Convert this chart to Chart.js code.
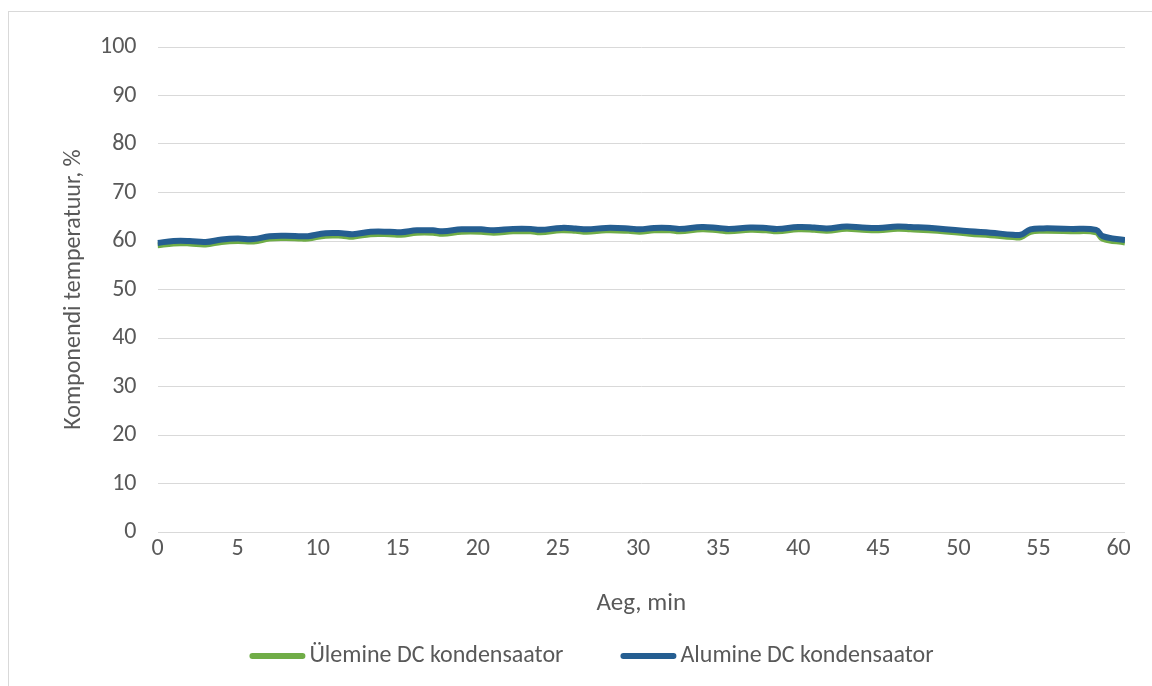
<!DOCTYPE html>
<html>
<head>
<meta charset="utf-8">
<script src="https://cdn.jsdelivr.net/npm/chart.js@4.4.1/dist/chart.umd.min.js"></script>
<style>
  html, body { margin: 0; padding: 0; background: #ffffff; }
  #wrap { position: relative; width: 1152px; height: 686px; }
</style>
</head>
<body>
<div id="wrap"><canvas id="c" width="1152" height="686"></canvas></div>
<script>
// Time stamps (minutes) and the two capacitor temperature series (%)
const minutes = [0, 1, 2, 3, 4, 5, 6, 7, 8, 9, 9.4, 10.5, 11.5, 12.2, 13.3, 14.5, 15.2, 16.2, 17.2, 17.8,
  19, 20.2, 21, 22.2, 23.3, 23.9, 25.2, 26.1, 26.8, 28, 29.4, 30.1, 31, 32, 32.6, 34, 35, 35.7, 37, 38,
  38.7, 40, 41, 41.8, 43, 44, 45, 46.2, 47, 48.7, 50.7, 52, 53.4, 53.9, 54.5, 55.3, 57, 58.6, 59, 60.4];

const upperCap = [59.1, 59.5, 59.5, 59.3, 59.8, 60.0, 59.9, 60.5, 60.6, 60.5, 60.5, 61.1, 61.1, 60.9, 61.4, 61.4, 61.3, 61.7, 61.7, 61.5,
  61.9, 61.9, 61.7, 62.0, 62.0, 61.8, 62.2, 62.1, 61.9, 62.2, 62.1, 61.9, 62.2, 62.2, 62.0, 62.4, 62.2, 62.0, 62.3, 62.2,
  62.0, 62.4, 62.3, 62.1, 62.5, 62.3, 62.2, 62.5, 62.4, 62.1, 61.5, 61.2, 60.8, 60.8, 61.9, 62.1, 62.0, 61.8, 60.5, 59.7];

const lowerCap = [59.6, 60.0, 60.0, 59.8, 60.3, 60.5, 60.4, 61.0, 61.1, 61.0, 61.0, 61.6, 61.6, 61.4, 61.9, 61.9, 61.8, 62.2, 62.2, 62.0,
  62.4, 62.4, 62.2, 62.5, 62.5, 62.3, 62.7, 62.6, 62.4, 62.7, 62.6, 62.4, 62.7, 62.7, 62.5, 62.9, 62.7, 62.5, 62.8, 62.7,
  62.5, 62.9, 62.8, 62.6, 63.0, 62.8, 62.7, 63.0, 62.9, 62.6, 62.0, 61.7, 61.3, 61.3, 62.4, 62.6, 62.5, 62.3, 61.0, 60.2];

const seriesNames = ['Ülemine DC kondensaator', 'Alumine DC kondensaator'];
const seriesColors = ['#70ad47', '#255e91'];
const yTicks = [0, 10, 20, 30, 40, 50, 60, 70, 80, 90, 100];
const xTicks = [0, 5, 10, 15, 20, 25, 30, 35, 40, 45, 50, 55, 60];

const FONT = 'Calibri, Carlito, Lato, sans-serif';
const TEXT = '#595959';
const GRID = '#d9d9d9';

const toPoints = vals => vals.map((v, i) => ({ x: minutes[i], y: v }));

// Outer chart frame (light grey rule on the left and top edges)
const framePlugin = {
  id: 'frame',
  beforeDraw(chart) {
    const ctx = chart.ctx;
    ctx.save();
    ctx.fillStyle = '#ffffff';
    ctx.fillRect(0, 0, chart.width, chart.height);
    ctx.strokeStyle = GRID;
    ctx.lineWidth = 1;
    ctx.strokeRect(8.5, 11.5, 1400, 900);
    ctx.restore();
  }
};

// Line-sample legend under the x axis title
const lineLegend = {
  id: 'lineLegend',
  afterDraw(chart, args, opts) {
    const ctx = chart.ctx;
    ctx.save();
    ctx.font = opts.size + 'px ' + FONT;
    ctx.textBaseline = 'middle';
    const items = chart.data.datasets.map(ds => ({
      label: ds.label, color: ds.borderColor, w: ctx.measureText(ds.label).width
    }));
    const itemW = it => opts.sample + opts.gap + it.w;
    const total = items.reduce((s, it) => s + itemW(it), 0) + opts.spacing * (items.length - 1);
    let x = opts.center - total / 2;
    const y = opts.y;
    items.forEach(it => {
      ctx.strokeStyle = it.color;
      ctx.lineWidth = 6;
      ctx.lineCap = 'round';
      ctx.beginPath();
      ctx.moveTo(x + 3, y);
      ctx.lineTo(x + opts.sample - 3, y);
      ctx.stroke();
      ctx.fillStyle = TEXT;
      ctx.fillText(it.label, x + opts.sample + opts.gap, y);
      x += itemW(it) + opts.spacing;
    });
    ctx.restore();
  }
};

new Chart(document.getElementById('c'), {
  type: 'line',
  data: {
    datasets: [
      {
        label: seriesNames[0],
        data: toPoints(upperCap),
        borderColor: seriesColors[0],
        backgroundColor: seriesColors[0],
        borderWidth: 6,
        pointRadius: 0,
        tension: 0.4,
        order: 1
      },
      {
        label: seriesNames[1],
        data: toPoints(lowerCap),
        borderColor: seriesColors[1],
        backgroundColor: seriesColors[1],
        borderWidth: 6,
        pointRadius: 0,
        tension: 0.4,
        order: 0
      }
    ]
  },
  options: {
    responsive: false,
    animation: false,
    events: [],
    layout: { padding: { left: 50, top: 47, right: 27, bottom: 54 } },
    plugins: {
      legend: { display: false },
      tooltip: { enabled: false },
      lineLegend: { size: 24, sample: 56, gap: 4, spacing: 57, center: 591.5, y: 656 }
    },
    scales: {
      x: {
        type: 'linear',
        min: 0,
        max: 60.4,
        afterBuildTicks: s => { s.ticks = xTicks.map(v => ({ value: v })); },
        afterFit: s => { s.height = 100; },
        grid: { display: false, drawTicks: false },
        border: { display: false },
        ticks: { color: TEXT, font: { family: FONT, size: 24 }, padding: 3, maxRotation: 0, autoSkip: false },
        title: {
          display: true, text: 'Aeg, min', color: TEXT,
          font: { family: FONT, size: 25 }, padding: { top: 0, bottom: 13 }
        }
      },
      y: {
        min: 0,
        max: 100,
        afterBuildTicks: s => { s.ticks = yTicks.map(v => ({ value: v })); },
        afterFit: s => { s.width = 107.5; },
        grid: { color: GRID, lineWidth: 1, drawTicks: false },
        border: { display: false },
        ticks: { color: TEXT, font: { family: FONT, size: 24 }, padding: 21 },
        title: {
          display: true, text: 'Komponendi temperatuur, %', color: TEXT,
          font: { family: FONT, size: 24 }, padding: { top: 10, bottom: 0 }
        }
      }
    }
  },
  plugins: [framePlugin, lineLegend]
});
</script>
</body>
</html>
